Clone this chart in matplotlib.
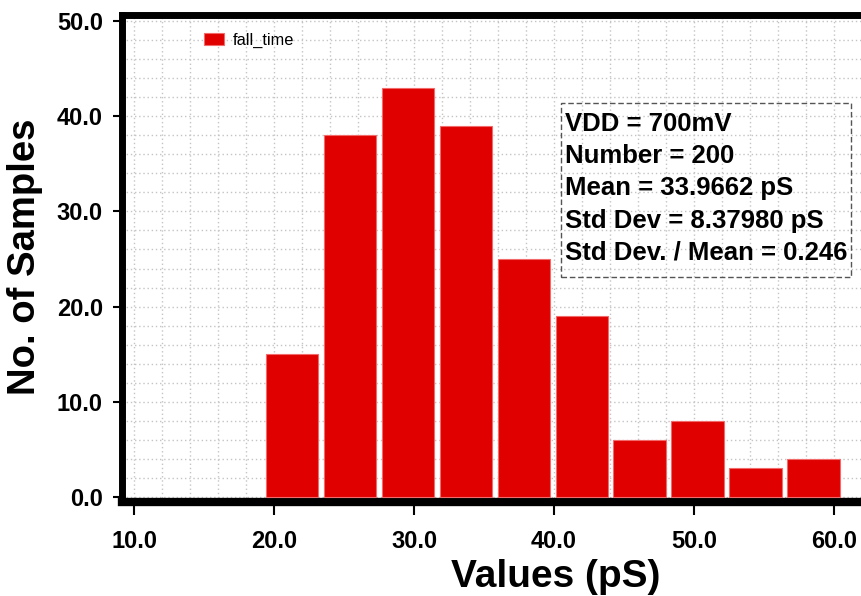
import matplotlib
matplotlib.use('Agg')
import matplotlib.pyplot as plt
from matplotlib.patches import Rectangle
from matplotlib.ticker import MultipleLocator, FormatStrFormatter

# Monte Carlo fall time histogram
counts = [15, 38, 43, 39, 25, 19, 6, 8, 3, 4]
bin_start = 19.41
bin_width = 4.14
series_name = 'fall_time'
stats_lines = ['VDD = 700mV',
               'Number = 200',
               'Mean = 33.9662 pS',
               'Std Dev = 8.37980 pS',
               'Std Dev. / Mean = 0.246']
x_ticks = [10, 20, 30, 40, 50, 60]
y_ticks = [0, 10, 20, 30, 40, 50]

plt.rcParams['font.family'] = ['Liberation Sans', 'DejaVu Sans']

W, H = 861, 596
fig = plt.figure(figsize=(W / 100, H / 100), dpi=100)
ax = fig.add_axes([121.5 / W, 1 - 502 / H, (W - 121.5) / W, (502 - 15) / H])

lefts = [bin_start + i * bin_width for i in range(len(counts))]
ax.bar(lefts, counts, width=bin_width * 0.9, align='edge',
       color='#e00000', edgecolor='#f26a6a', linewidth=0.8,
       label=series_name, zorder=3)

ax.set_xlim(9.107, 61.93)
ax.set_ylim(-0.525, 50.63)

ax.xaxis.set_major_locator(plt.FixedLocator(x_ticks))
ax.yaxis.set_major_locator(plt.FixedLocator(y_ticks))
ax.xaxis.set_minor_locator(MultipleLocator(2))
ax.yaxis.set_minor_locator(MultipleLocator(2))
ax.xaxis.set_major_formatter(FormatStrFormatter('%.1f'))
ax.yaxis.set_major_formatter(FormatStrFormatter('%.1f'))

ax.grid(which='both', color='#c4c4c4', linestyle=(0, (1, 2)), linewidth=1)
ax.set_axisbelow(True)

for side in ('left', 'bottom', 'top'):
    ax.spines[side].set_linewidth(5)
ax.spines['bottom'].set_linewidth(6)
ax.spines['right'].set_visible(False)

ax.tick_params(axis='x', which='major', length=9.5, width=1.5, pad=11,
               labelsize=17, direction='out')
ax.tick_params(axis='y', which='major', length=6.5, width=1.5, pad=7,
               labelsize=17, direction='out')
ax.tick_params(which='minor', length=0)
ax.tick_params(top=False, right=False)
for lbl in ax.get_xticklabels() + ax.get_yticklabels():
    lbl.set_fontweight('bold')

ax.set_xlabel('Values (pS)', fontsize=28, fontweight='bold')
ax.set_ylabel('No. of Samples', fontsize=27.5, fontweight='bold')
ax.xaxis.set_label_coords((556 - 121.5) / (W - 121.5), (502 - 577) / 487)
ax.yaxis.set_label_coords((25 - 121.5) / (W - 121.5), (502 - 257) / 487)
ax.xaxis.label.set_va('center')
ax.yaxis.label.set_va('center')

ax.legend(loc='upper left', bbox_to_anchor=(197 / W, 1 - 26 / H),
          bbox_transform=fig.transFigure, frameon=False, fontsize=11.8,
          handlelength=1.22, handleheight=0.8, handletextpad=0.55,
          borderaxespad=0, borderpad=0.4)

# statistics box
fig.patches.append(Rectangle((561 / W, 1 - 277 / H), 290 / W, 174 / H,
                             transform=fig.transFigure, fill=False,
                             edgecolor='#555555', linewidth=1,
                             linestyle=(0, (4, 2)), zorder=5))
fig.text(565 / W, 1 - 112 / H, '\n'.join(stats_lines), fontsize=18.5,
         fontweight='bold', va='top', ha='left', linespacing=1.43, zorder=6)

fig.savefig('out.png', dpi=100)
